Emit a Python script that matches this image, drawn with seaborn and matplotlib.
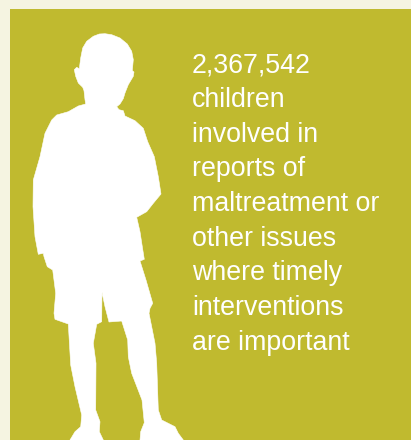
import matplotlib
matplotlib.use('Agg')
import matplotlib.pyplot as plt
import seaborn as sns

# silhouette outline in pixels (clockwise from top of head)
outline_x = [105, 111.7, 120, 127.3, 131.7, 133.3, 132.3, 134, 133.3, 128.3, 125, 123.3, 120, 116.7, 119, 123.3,
             125, 135, 143.3, 147.7, 154.3, 158.3, 161, 153.3, 146.7, 136.7, 140, 142.3, 144.3, 140,
             146, 152.7, 150, 149, 155, 156.7, 158.3, 161.7, 175, 178.3, 183.3, 140, 140.7, 144.3, 142, 131.7,
             128.3, 127.7, 121.7, 109, 105, 102, 101.7, 96.7, 93.3, 96, 95.7, 100, 99.3, 103.3,
             70, 75, 80.7, 81.7, 75, 70.7, 68.3, 55, 54, 55.7, 52.7, 47.3, 44, 43.3, 38.3, 35, 33, 33.3, 40, 45,
             51.7, 56.7, 68.3, 78.3, 85.7, 85, 84, 82.7, 78.3, 75.7, 74.3, 76.7, 79.3, 80.7, 82.7, 86.7, 93.3, 99.3]
outline_y = [33.7, 34.7, 38, 44, 51.3, 59.7, 70.7, 72, 76.3, 84.7, 93, 98.7, 104, 106.7, 109.7, 110.7,
             116, 120.7, 128.3, 141.7, 156.7, 176.7, 194, 203.3, 211.7, 217.3, 231.7, 246.7, 259.3, 261,
             280, 303.3, 308.3, 313.3, 343.3, 363.3, 410, 420, 426.7, 433.3, 440, 440, 431.7, 422.7, 400, 373.3,
             356.7, 340, 321, 322, 306.7, 292.3, 321.7, 324.3, 343.3, 363.3, 410, 421.7, 431.7, 440,
             440, 431.7, 426.7, 415, 386.7, 365, 324, 319.3, 313.3, 293.3, 270, 266.7, 256.7, 253.3, 254.3, 236.7, 206.7, 180, 156.7, 133.3,
             120, 115, 111.7, 106, 104, 99.7, 90.7, 87.3, 83, 76.3, 69.7, 67.3, 68.7, 58, 48, 41.3, 36.3, 34]

caption_lines = ['2,367,542', 'children', 'involved in', 'reports of', 'maltreatment or',
                 'other issues', 'where timely', 'interventions', 'are important']
caption_baselines = [72, 107, 142, 176, 211, 246, 280, 315, 350]

sns.set_style('white')
plt.rcParams['font.family'] = ['Liberation Sans', 'DejaVu Sans']

fig = plt.figure(figsize=(4.11, 4.40), dpi=100, facecolor='#F5F4E1')
ax = fig.add_axes([10 / 411, 0, 401 / 411, 431 / 440], facecolor='#C0BA2F')
ax.set_xlim(10, 411)
ax.set_ylim(440, 9)
for spine in ax.spines.values():
    spine.set_visible(False)
ax.set_xticks([])
ax.set_yticks([])

ax.fill(outline_x, outline_y, color='white', linewidth=0.4, joinstyle='round')

for line, base in zip(caption_lines, caption_baselines):
    ax.text(192, base, line, color='white', fontsize=19.3, ha='left', va='baseline')

fig.savefig('out.png', dpi=100)
plt.close(fig)
